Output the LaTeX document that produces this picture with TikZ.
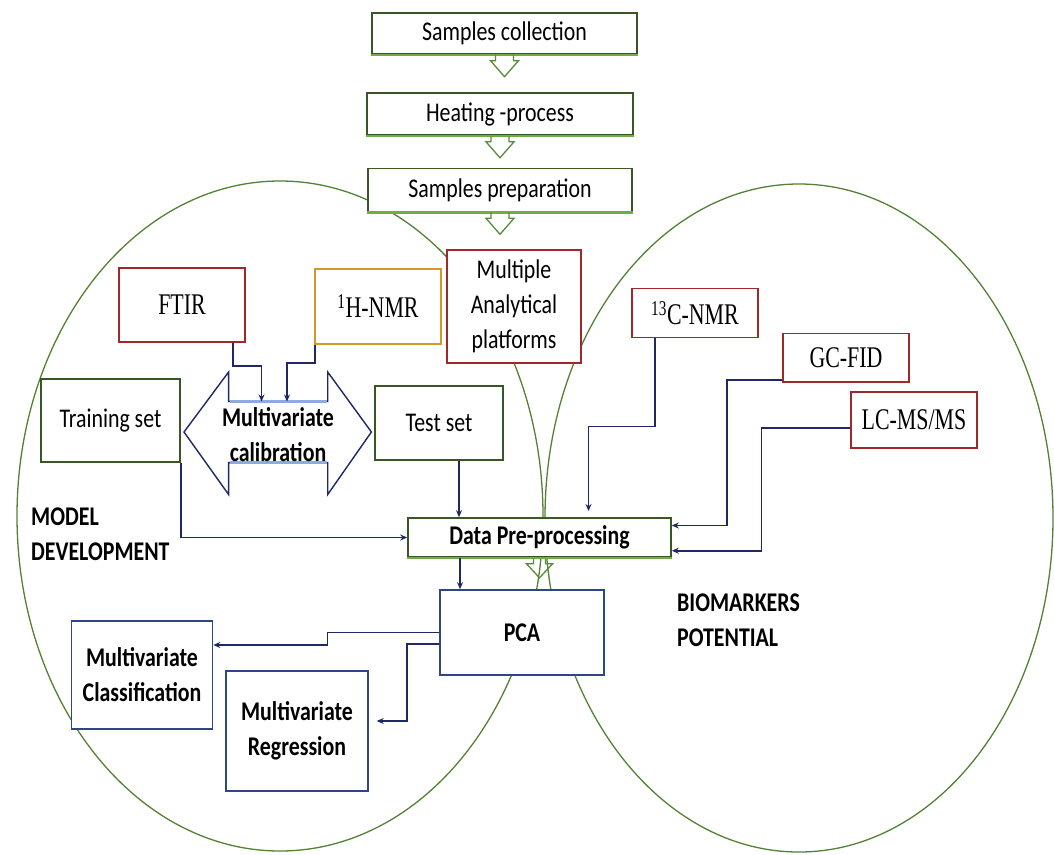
\documentclass[tikz,border=0pt]{standalone}
\usepackage{fontspec}
\setmainfont{Carlito}[FakeStretch=0.81]
\newfontfamily\tnr{Liberation Serif}[FakeStretch=0.73]
\usetikzlibrary{arrows.meta}
\definecolor{gdark}{RGB}{56,87,35}
\definecolor{glight}{RGB}{112,173,71}
\definecolor{ellc}{RGB}{84,130,53}
\definecolor{rboxc}{RGB}{160,40,40}
\definecolor{oboxc}{RGB}{214,150,40}
\definecolor{bboxc}{RGB}{47,70,130}
\definecolor{navy}{RGB}{30,40,100}
\definecolor{lblue}{RGB}{143,170,220}
\newcommand\ftxt{\fontsize{27}{35}\selectfont}
\newcommand\fser{\tnr\fontsize{30}{34}\selectfont}
\tikzset{
  box/.style={draw, fill=white, line width=1.6pt, inner sep=0pt, align=center, font=\ftxt},
  gbox/.style={box, draw=gdark},
  rbox/.style={box, draw=rboxc, font=\fser},
  obox/.style={box, draw=oboxc, font=\fser},
  bbox/.style={box, draw=bboxc, font=\ftxt\bfseries},
  conn/.style={draw=navy, line width=1.6pt, -{Stealth[length=7pt,width=6pt]}},
  hollowarr/.style={draw=glight!60!gdark, line width=1.3pt},
  ellline/.style={draw=ellc, line width=1.3pt},
  bottomline/.style={draw=glight, line width=2.4pt},
  lbl/.style={font=\ftxt\bfseries, align=left, anchor=west, inner sep=0pt}
}
\begin{document}
\begin{tikzpicture}[x=1pt,y=-1pt]
\useasboundingbox (0,0) rectangle (1054,854);
\fill[white] (0,0) rectangle (1054,854);
% ellipses
\draw[ellline] (280,516) ellipse [x radius=263pt, y radius=335pt];
\draw[ellline] (799,518) ellipse [x radius=254pt, y radius=334pt];
% top flow
\node[gbox, minimum width=265pt, minimum height=41pt] (sc) at (504.5,33.4) {Samples collection};
\node[gbox, minimum width=266pt, minimum height=42pt] (hp) at (500,114) {Heating -process};
\node[gbox, minimum width=264pt, minimum height=43pt] (sp) at (500,190) {Samples preparation};
\node[rbox, font=\ftxt, minimum width=134pt, minimum height=113pt] (map) at (514,306.5) {Multiple\\Analytical\\platforms};
% instruments
\node[rbox, minimum width=126pt, minimum height=74pt] (ftir) at (182,305) {FTIR};
\node[obox, minimum width=126pt, minimum height=75pt] (hnmr) at (378,306.5) {\textsuperscript{1}H-NMR};
\node[rbox, minimum width=126pt, minimum height=49pt] (cnmr) at (695,313) {\textsuperscript{13}C-NMR};
\node[rbox, minimum width=126pt, minimum height=48.5pt] (gc) at (846,357.75) {GC-FID};
\node[rbox, minimum width=126pt, minimum height=56.5pt] (lc) at (914,420) {LC-MS/MS};
% sets
\node[gbox, minimum width=139pt, minimum height=83pt] (train) at (110.5,420.5) {Training set};
\node[gbox, minimum width=128pt, minimum height=74pt] (test) at (439,423) {Test set};
% calibration double arrow
\draw[draw=navy, line width=1.4pt, fill=white] (184,432) -- (228.6,372) -- (228.6,401.5) -- (327.7,401.5) -- (327.7,372) -- (371.4,432) -- (327.7,494.5) -- (327.7,462.6) -- (228.6,462.6) -- (228.6,494.5) -- cycle;
\draw[draw=lblue, line width=2.4pt] (229.5,401.5) -- (326.8,401.5);
\draw[draw=lblue, line width=2.4pt] (229.5,462.6) -- (326.8,462.6);
\node[font=\ftxt\bfseries, align=center, inner sep=0pt] (calib) at (278,435) {Multivariate\\calibration};
\coordinate (calibA) at (261.5,401.5);
\coordinate (calibB) at (287,401.5);
% processing
\node[gbox, font=\ftxt\bfseries, minimum width=263pt, minimum height=39pt] (dp) at (539.5,537.5) {Data Pre-processing};
\node[bbox, minimum width=164pt, minimum height=85pt] (pca) at (522,632.5) {PCA};
\node[bbox, minimum width=141pt, minimum height=108pt] (mcl) at (142,675) {Multivariate\\Classification};
\node[bbox, minimum width=142pt, minimum height=120pt] (mre) at (297,731) {Multivariate\\Regression};
% light bottom edges
\foreach \n in {sc,hp,sp,dp} {\draw[bottomline] (\n.south west) -- (\n.south east);}
% hollow arrows
\foreach \n in {sc,hp,sp} {
  \draw[hollowarr, shift={(\n.south)}] (-9,0) -- (-9,6) -- (-14,6) -- (0,22) -- (14,6) -- (9,6) -- (9,0);
}
\draw[hollowarr, shift={(dp.south)}] (-6,1) -- (-6,6) -- (-13,6) -- (0,20) -- (13,6) -- (6,6) -- (6,1);
% labels
\node[lbl] (md) at (31,534.5) {MODEL\\DEVELOPMENT};
\node[lbl] (bp) at (677,620.5) {BIOMARKERS\\POTENTIAL};
% connectors
\draw[conn] ([xshift=-13pt]ftir.south east) -- ++(0,23) -| (calibA);
\draw[conn] ([xshift=1pt]hnmr.south west) -- ++(0,18) -| (calibB);
\draw[conn] (train.south east) |- (dp.west);
\coordinate (t1) at ([xshift=20pt]test.south);
\draw[conn] (t1) -- (t1 |- dp.north);
\coordinate (c13a) at ([xshift=24pt]cnmr.south west);
\coordinate (c13end) at (588.5,511);
\draw[conn] (c13a) -- ++(0,88) -| (c13end);
\coordinate (gca) at ([yshift=3pt]gc.south west);
\coordinate (gcb) at (727,525.5);
\draw[conn] (gca) -| (gcb) -- (gcb -| dp.east);
\coordinate (lca) at ([yshift=-8pt]lc.west);
\coordinate (lcb) at (761.6,550.7);
\draw[conn] (lca) -| (lcb) -- (lcb -| dp.east);
\coordinate (d1) at ([xshift=-79.5pt]dp.south);
\draw[conn] (d1) -- (d1 |- pca.north);
\coordinate (pc1) at (327.5,645);
\draw[conn] (pca.west) -| (pc1) -- (pc1 -| mcl.east);
\coordinate (pr0) at ([yshift=-11.5pt]pca.west);
\coordinate (pr1) at (407,721);
\coordinate (prend) at (376.7,721);
\draw[conn] (pr0) -| (pr1) -- (prend);
\end{tikzpicture}
\end{document}
